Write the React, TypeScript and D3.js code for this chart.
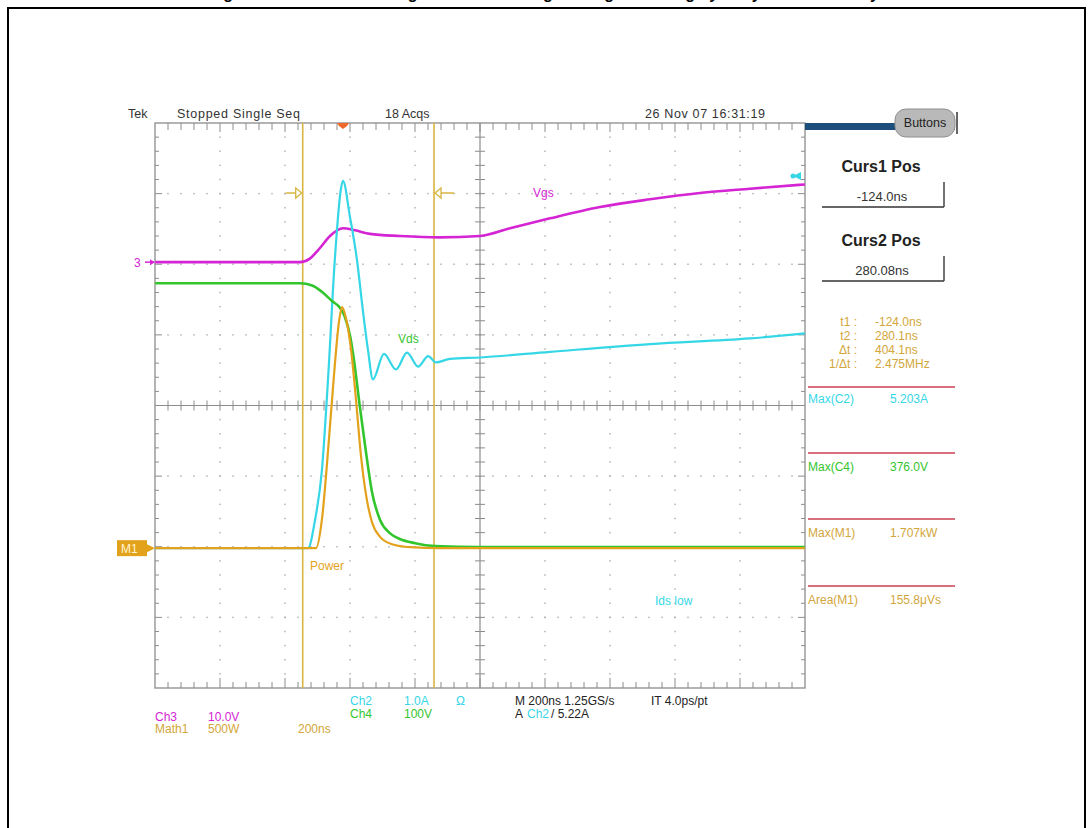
import React from "react";
import * as d3 from "d3";

// ---------- data (time in ns relative to trigger) ----------
const vgsTime = [-578, -132, -102, -71, -40, 0, 37, 83, 175, 298, 422, 514, 637, 791, 945, 1098, 1252, 1421];
const vgsVolts = [0, 0, 0.5, 2.0, 3.7, 4.8, 4.5, 4.0, 3.7, 3.5, 3.7, 4.8, 6.2, 7.8, 8.9, 9.8, 10.4, 11.0];

const idsTime = [-578, -108, -86, -65, -46, -25, -6, 0, 21, 43, 61, 77, 92, 126, 163, 197, 231, 262, 286, 329, 422, 637, 945, 1252, 1421];
const idsAmps = [0, 0, 0.4, 1.1, 2.4, 4.1, 5.1, 5.2, 4.7, 4.08, 3.37, 2.8, 2.39, 2.75, 2.53, 2.77, 2.57, 2.72, 2.63, 2.68, 2.7, 2.78, 2.89, 2.97, 3.04];

const vdsTime = [-578, -132, -95, -65, -34, -9, 6, 22, 31, 52, 68, 89, 114, 145, 175, 222, 283, 422, 1421];
const vdsVolts = [375, 375, 372, 363, 350, 340, 327, 300, 275, 200, 145, 80, 40, 21, 13, 7, 3, 1.5, 1.5];

const pwrTime = [-578, -83, -65, -46, -28, -12, -3, 9, 25, 40, 55, 71, 89, 114, 151, 206, 300, 1421];
const pwrWatts = [0, 0, 200, 690, 1220, 1610, 1707, 1630, 1400, 1050, 660, 375, 185, 80, 28, 7, 0, 0];

const cursorTimes = [-124, 280.08];

const headerTexts = ["Tek", "Stopped  Single Seq", "18 Acqs", "26 Nov 07 16:31:19"];
const readoutLabels = ["t1 :", "t2 :", "Δt :", "1/Δt :"];
const readoutValues = ["-124.0ns", "280.1ns", "404.1ns", "2.475MHz"];
const measLabels = ["Max(C2)", "Max(C4)", "Max(M1)", "Area(M1)"];
const measValues = ["5.203A", "376.0V", "1.707kW", "155.8μVs"];

// ---------- layout ----------
const W = 1088, H = 828;
const X0 = 155, X1 = 805, Y0 = 123, Y1 = 688;
const NARROW = "'Liberation Sans Narrow', 'Liberation Sans', Arial, sans-serif";

const C_MAG = "#d424d4";
const C_CYAN = "#35d6e6";
const C_GREEN = "#33c52e";
const C_ORANGE = "#e3a21c";
const C_CURSOR = "#d8b541";
const C_READ = "#d2a63a";
const C_GRID = "#8c8c8c";

const x = d3.scaleLinear().domain([-578.5, 1421.5]).range([X0, X1]);
const yDiv = d3.scaleLinear().domain([-4, 4]).range([Y1, Y0]);

function chan(offset: number, perDiv: number) {
  return (v: number) => yDiv(offset + v / perDiv);
}
const yVgs = chan(2.03, 10);
const yIds = chan(-2.02, 1);
const yVds = chan(-2.02, 100);
const yPwr = chan(-2.02, 500);

function pathFor(ts: number[], vs: number[], ys: (v: number) => number) {
  const line = d3.line<number>()
    .x((_, i) => x(ts[i]))
    .y((d) => ys(d))
    .curve(d3.curveMonotoneX);
  return line(vs) || "";
}

export default function App() {
  const xDivs = d3.range(0, 11).map((i) => X0 + (i * (X1 - X0)) / 10);
  const yDivs = d3.range(0, 9).map((j) => yDiv(4 - j));
  const dx = (X1 - X0) / 50;
  const dy = (Y1 - Y0) / 40;
  const xc = X0 + (X1 - X0) / 2;
  const yc = yDiv(0);

  const dots: JSX.Element[] = [];
  xDivs.forEach((xx, i) => {
    if (i === 0 || i === 10 || i === 5) return;
    for (let k = 1; k < 40; k++) {
      dots.push(<rect key={`v${i}-${k}`} x={xx - 0.75} y={Y0 + k * dy - 0.75} width={1.5} height={1.5} fill="#b4b4b4" />);
    }
  });
  yDivs.forEach((yy, j) => {
    if (j === 0 || j === 8 || j === 4) return;
    for (let k = 1; k < 50; k++) {
      dots.push(<rect key={`h${j}-${k}`} x={X0 + k * dx - 0.75} y={yy - 0.75} width={1.5} height={1.5} fill="#b4b4b4" />);
    }
  });

  const ticks: JSX.Element[] = [];
  for (let k = 1; k < 50; k++) {
    const xx = X0 + k * dx;
    const major = k % 5 === 0;
    ticks.push(<line key={`tt${k}`} x1={xx} x2={xx} y1={Y0} y2={Y0 + (major ? 9 : 7)} stroke={C_GRID} strokeWidth={1} />);
    ticks.push(<line key={`tb${k}`} x1={xx} x2={xx} y1={Y1} y2={Y1 - (major ? 10 : 6)} stroke={C_GRID} strokeWidth={1} />);
    ticks.push(<line key={`tc${k}`} x1={xx} x2={xx} y1={yc - 5} y2={yc + 5} stroke={C_GRID} strokeWidth={1} />);
  }
  for (let k = 1; k < 40; k++) {
    const yy = Y0 + k * dy;
    const major = k % 5 === 0;
    ticks.push(<line key={`tl${k}`} x1={X0} x2={X0 + (major ? 7 : 4)} y1={yy} y2={yy} stroke={C_GRID} strokeWidth={1} />);
    ticks.push(<line key={`tr${k}`} x1={X1} x2={X1 - (major ? 7 : 4)} y1={yy} y2={yy} stroke={C_GRID} strokeWidth={1} />);
    ticks.push(<line key={`tm${k}`} x1={xc - 5} x2={xc + 5} y1={yy} y2={yy} stroke={C_GRID} strokeWidth={1} />);
  }

  const c1 = x(cursorTimes[0]);
  const c2 = x(cursorTimes[1]);
  const cy = 193;

  return (
    <svg width={W} height={H} style={{ position: "absolute", left: 0, top: 0, background: "#fff" }}>
      <rect x={0} y={0} width={W} height={H} fill="#fff" />
      <text x={544} y={-1} textAnchor="middle" fontFamily="'Liberation Sans', Arial" fontWeight="bold" fontSize={16} fill="#000">
        Figure 9. Turn-on switching waveforms at high-side gate driving by body diode recovery
      </text>
      <rect x={8} y={8} width={1077} height={840} fill="none" stroke="#000" strokeWidth={2} />

      {/* grid */}
      {dots}
      <line x1={X0} x2={X1} y1={yc} y2={yc} stroke={C_GRID} strokeWidth={1.2} />
      <line x1={xc} x2={xc} y1={Y0} y2={Y1} stroke={C_GRID} strokeWidth={1.2} />
      {ticks}
      <rect x={X0} y={Y0} width={X1 - X0} height={Y1 - Y0} fill="none" stroke={C_GRID} strokeWidth={1.3} />

      {/* cursors */}
      <line x1={c1} x2={c1} y1={Y0} y2={Y1} stroke={C_CURSOR} strokeWidth={1.6} />
      <line x1={c2} x2={c2} y1={Y0} y2={Y1} stroke={C_CURSOR} strokeWidth={1.6} />
      <line x1={c1 - 17} x2={c1 - 6} y1={cy} y2={cy} stroke={C_CURSOR} strokeWidth={1.5} />
      <path d={`M${c1 - 7},${cy - 5} L${c1 - 1},${cy} L${c1 - 7},${cy + 5} Z`} fill="#fff" stroke={C_CURSOR} strokeWidth={1.3} />
      <line x1={c2 + 6} x2={c2 + 20} y1={cy} y2={cy} stroke={C_CURSOR} strokeWidth={1.5} />
      <path d={`M${c2 + 7},${cy - 5} L${c2 + 1},${cy} L${c2 + 7},${cy + 5} Z`} fill="#fff" stroke={C_CURSOR} strokeWidth={1.3} />

      {/* traces */}
      <path d={pathFor(vgsTime, vgsVolts, yVgs)} fill="none" stroke={C_MAG} strokeWidth={2.6} />
      <path d={pathFor(idsTime, idsAmps, yIds)} fill="none" stroke={C_CYAN} strokeWidth={2.2} />
      <path d={pathFor(vdsTime, vdsVolts, yVds)} fill="none" stroke={C_GREEN} strokeWidth={2.6} />
      <path d={pathFor(pwrTime, pwrWatts, yPwr)} fill="none" stroke={C_ORANGE} strokeWidth={2.2} />

      {/* trace labels */}
      <text x={533} y={197} fontFamily={NARROW} fontSize={12} fill={C_MAG}>Vgs</text>
      <text x={398} y={343} fontFamily={NARROW} fontSize={12} fill={C_GREEN}>Vds</text>
      <text x={310} y={570} fontFamily={NARROW} fontSize={12} fill={C_ORANGE}>Power</text>
      <text x={655} y={605} fontFamily={NARROW} fontSize={12} fill={C_CYAN}>Ids low</text>

      {/* markers */}
      <path d={`M${x(0) - 6},${Y0} L${x(0) + 6},${Y0} L${x(0) + 4},${Y0 + 3} L${x(0)},${Y0 + 6} L${x(0) - 4},${Y0 + 3} Z`} fill="#ef6a2a" />
      <text x={134} y={267} fontFamily={NARROW} fontSize={12} fill={C_MAG}>3</text>
      <line x1={145} x2={154} y1={yVgs(0)} y2={yVgs(0)} stroke={C_MAG} strokeWidth={1.5} />
      <path d={`M${150},${yVgs(0) - 3} L${155},${yVgs(0)} L${150},${yVgs(0) + 3} Z`} fill={C_MAG} />
      <rect x={117} y={yPwr(0) - 8} width={30} height={16} fill={C_ORANGE} />
      <text x={121} y={yPwr(0) + 5} fontFamily={NARROW} fontSize={12} fill="#fff5d0">M1</text>
      <path d={`M${147},${yPwr(0) - 4} L${155},${yPwr(0)} L${147},${yPwr(0) + 4} Z`} fill={C_ORANGE} />
      <path d={`M${X1 - 12},${176} L${X1 - 4},${172} L${X1 - 4},${180} Z`} fill={C_CYAN} />
      <circle cx={X1 - 12} cy={176} r={2.5} fill={C_CYAN} />

      {/* header */}
      <text x={128} y={118} fontFamily={NARROW} fontSize={12.5} fill="#333">{headerTexts[0]}</text>
      <text x={177} y={118} fontFamily={NARROW} fontSize={12.5} fill="#333" textLength={123}>{headerTexts[1]}</text>
      <text x={385} y={118} fontFamily={NARROW} fontSize={12.5} fill="#333">{headerTexts[2]}</text>
      <text x={645} y={118} fontFamily={NARROW} fontSize={12.5} fill="#333" textLength={120}>{headerTexts[3]}</text>

      {/* right panel */}
      <rect x={X1} y={Y0} width={150} height={7} fill="#1d4f7c" />
      <rect x={895} y={109} width={60} height={28} rx={11} fill="#b9b9b9" stroke="#8f8f8f" strokeWidth={1} />
      <text x={925} y={127} textAnchor="middle" fontFamily={NARROW} fontSize={12.5} fill="#222">Buttons</text>
      <line x1={957} x2={957} y1={112} y2={134} stroke="#333" strokeWidth={1.5} />

      <text x={881} y={172} textAnchor="middle" fontFamily="'Liberation Sans', Arial" fontWeight="bold" fontSize={16} fill="#222">Curs1 Pos</text>
      <text x={882} y={201} textAnchor="middle" fontFamily={NARROW} fontSize={13} fill="#333">-124.0ns</text>
      <line x1={822} x2={944} y1={207} y2={207} stroke="#666" strokeWidth={2} />
      <line x1={944} x2={944} y1={182} y2={207} stroke="#444" strokeWidth={1.5} />

      <text x={881} y={246} textAnchor="middle" fontFamily="'Liberation Sans', Arial" fontWeight="bold" fontSize={16} fill="#222">Curs2 Pos</text>
      <text x={882} y={275} textAnchor="middle" fontFamily={NARROW} fontSize={13} fill="#333">280.08ns</text>
      <line x1={822} x2={944} y1={281} y2={281} stroke="#666" strokeWidth={2} />
      <line x1={944} x2={944} y1={256} y2={281} stroke="#444" strokeWidth={1.5} />

      {readoutLabels.map((l, i) => (
        <text key={l} x={857} y={326 + i * 14} textAnchor="end" fontFamily={NARROW} fontSize={12} fill={C_READ}>{l}</text>
      ))}
      {readoutValues.map((v, i) => (
        <text key={v} x={875} y={326 + i * 14} fontFamily={NARROW} fontSize={12} fill={C_READ}>{v}</text>
      ))}

      {[387, 453, 519, 586].map((yy) => (
        <line key={yy} x1={808} x2={955} y1={yy} y2={yy} stroke="#d8707c" strokeWidth={2} />
      ))}
      {measLabels.map((l, i) => {
        const col = [C_CYAN, C_GREEN, C_READ, C_READ][i];
        const yy = [403, 471, 537, 604][i];
        return (
          <g key={l}>
            <text x={808} y={yy} fontFamily={NARROW} fontSize={12} fill={col}>{l}</text>
            <text x={890} y={yy} fontFamily={NARROW} fontSize={12} fill={col}>{measValues[i]}</text>
          </g>
        );
      })}

      {/* bottom readouts */}
      <text x={350} y={705} fontFamily={NARROW} fontSize={12} fill={C_CYAN}>Ch2</text>
      <text x={404} y={705} fontFamily={NARROW} fontSize={12} fill={C_CYAN}>1.0A</text>
      <text x={456} y={705} fontFamily={NARROW} fontSize={12} fill={C_CYAN}>Ω</text>
      <text x={350} y={718} fontFamily={NARROW} fontSize={12} fill={C_GREEN}>Ch4</text>
      <text x={404} y={718} fontFamily={NARROW} fontSize={12} fill={C_GREEN}>100V</text>
      <text x={155} y={721} fontFamily={NARROW} fontSize={12} fill={C_MAG}>Ch3</text>
      <text x={208} y={721} fontFamily={NARROW} fontSize={12} fill={C_MAG}>10.0V</text>
      <text x={155} y={733} fontFamily={NARROW} fontSize={12} fill={C_READ}>Math1</text>
      <text x={208} y={733} fontFamily={NARROW} fontSize={12} fill={C_READ}>500W</text>
      <text x={298} y={733} fontFamily={NARROW} fontSize={12} fill={C_READ}>200ns</text>
      <text x={515} y={705} fontFamily={NARROW} fontSize={12} fill="#222">M 200ns 1.25GS/s</text>
      <text x={651} y={705} fontFamily={NARROW} fontSize={12} fill="#222">IT 4.0ps/pt</text>
      <text x={515} y={718} fontFamily={NARROW} fontSize={12} fill="#222">A</text>
      <text x={527} y={718} fontFamily={NARROW} fontSize={12} fill={C_CYAN}>Ch2</text>
      <text x={551} y={718} fontFamily={NARROW} fontSize={12} fill="#222">/  5.22A</text>
    </svg>
  );
}
